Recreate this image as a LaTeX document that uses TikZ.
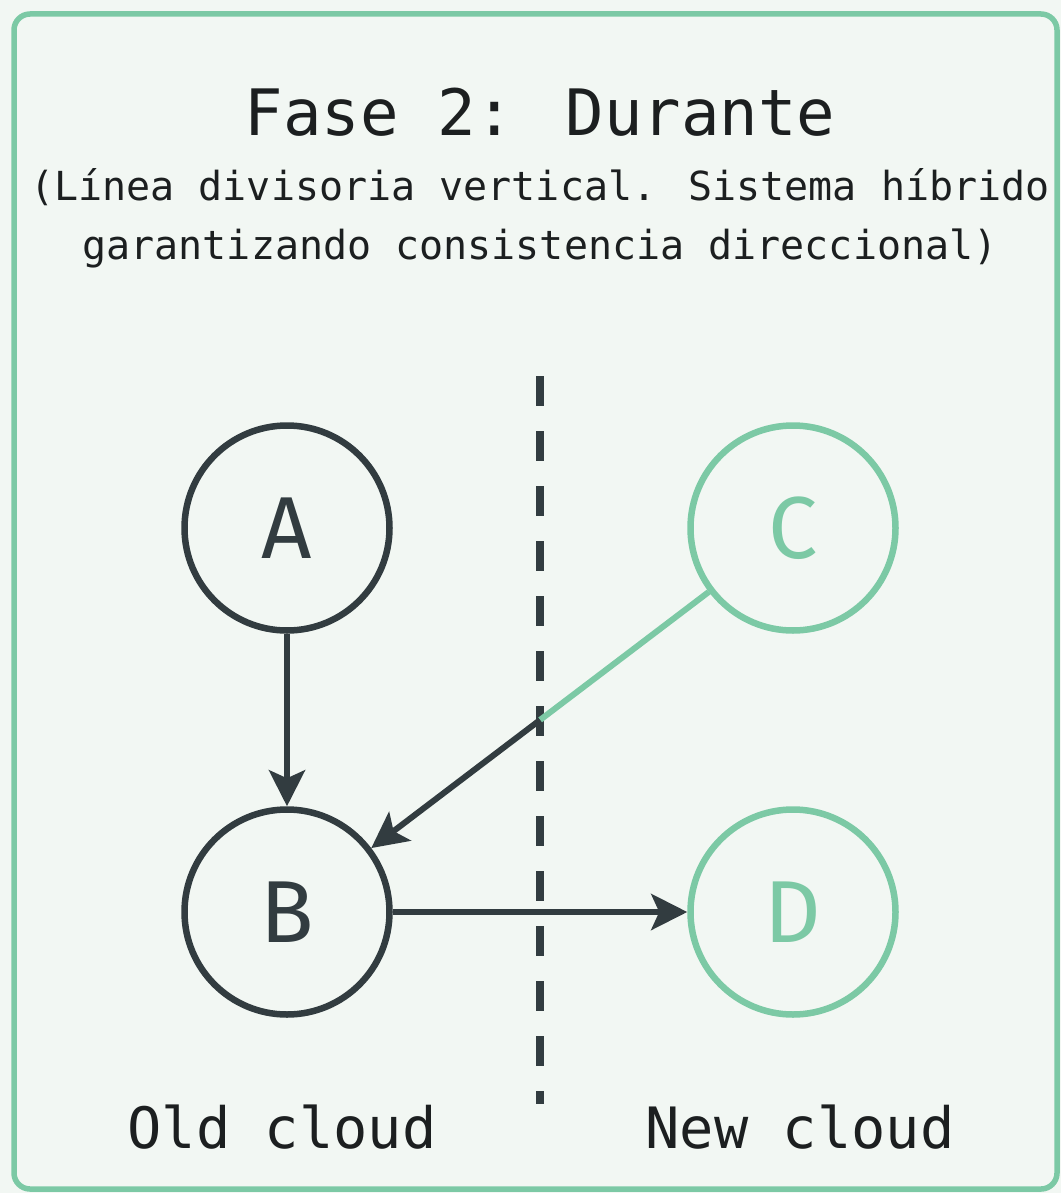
\documentclass[tikz,border=0pt]{standalone}
\usepackage{fontspec}
\setmainfont{DejaVu Sans Mono}
\newfontfamily\lettersfont{Fira Sans}
\usetikzlibrary{arrows.meta,calc}
\definecolor{paper}{HTML}{F2F7F3}
\definecolor{mint}{HTML}{7CC9A5}
\definecolor{slate}{HTML}{323C40}
\definecolor{ink}{HTML}{1C1F20}
\tikzset{
  cloudnode/.style={circle, minimum size=205pt, inner sep=0pt, line width=6.5pt,
    font=\lettersfont\fontsize{88}{88}\selectfont},
  oldnode/.style={cloudnode, draw=slate, text=slate},
  newnode/.style={cloudnode, draw=mint, text=mint},
  flow/.style={line width=6pt, draw=slate,
    -{Stealth[length=36pt, width=36pt, inset=8pt]}},
  divider/.style={line width=8pt, draw=slate, dash pattern=on 30pt off 25pt},
  caption/.style={text=ink, font=\fontsize{57}{57}\selectfont},
}
\begin{document}
\begin{tikzpicture}[x=1pt, y=-1pt]
  % page and frame
  \fill[paper] (0,0) rectangle (1061,1193);
  \useasboundingbox (0,0) rectangle (1061,1193);
  \draw[mint, line width=5.5pt, rounded corners=16pt, fill=paper] (14,14) rectangle (1057,1189);

  % heading
  \node[text=ink, font=\fontsize{64}{64}\selectfont] (title) at (540,112) {Fase 2: Durante};
  \node[text=ink, font=\fontsize{40}{59}\selectfont, align=center] (subtitle) at (540,218)
    {(Línea divisoria vertical. Sistema híbrido\\garantizando consistencia direccional)};

  % boundary between the two clouds
  \coordinate (divtop) at (540,376);
  \coordinate (divbot) at (540,1104);
  \draw[divider] (divtop) -- (divbot);

  % services
  \node[oldnode] (A) at (287,528) {A};
  \node[oldnode] (B) at (287,912) {B};
  \node[newnode] (C) at (793,528) {C};
  \node[newnode] (D) at (793,912) {D};

  % C reaches B across the divider: green on the new side, dark on the old side
  \coordinate (cross) at ($(C.center)!0.5!(B.center)$);
  \draw[mint, line width=6pt] (C) -- (cross);
  \draw[flow] (cross) -- (B);

  \draw[flow] (A) -- (B);
  \draw[flow] (B) -- (D);

  % side captions
  \node[caption] (oldlabel) at (282,1127) {Old cloud};
  \node[caption] (newlabel) at (800,1127) {New cloud};
\end{tikzpicture}
\end{document}
